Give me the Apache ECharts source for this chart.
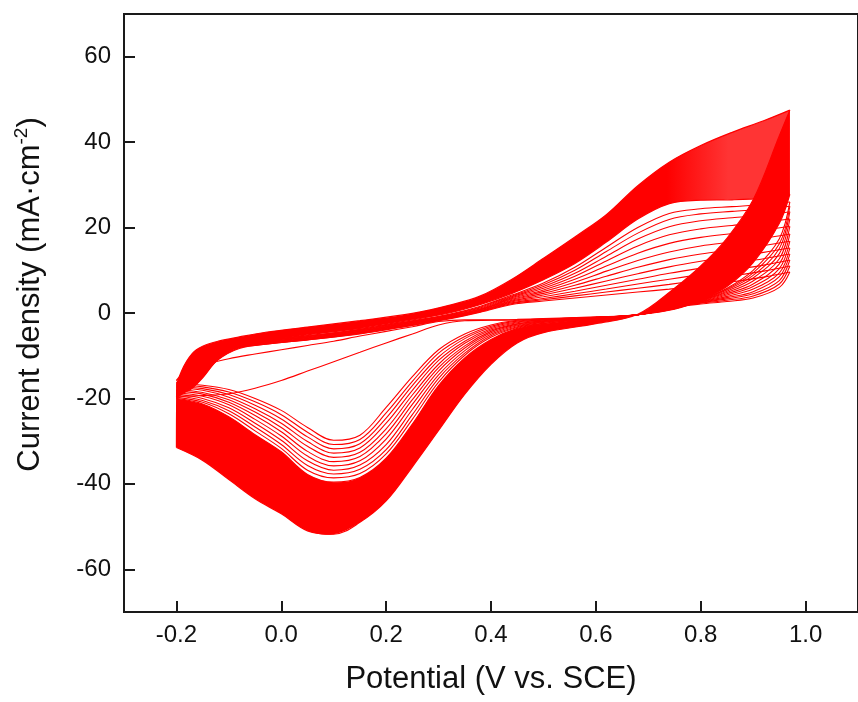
<!DOCTYPE html>
<html>
<head>
<meta charset="utf-8">
<script src="https://cdn.jsdelivr.net/npm/echarts@6/dist/echarts.min.js"></script>
<style>
  html, body { margin: 0; padding: 0; background: #ffffff; }
  #chart { width: 858px; height: 702px; }
</style>
</head>
<body>
<div id="chart"></div>
<script>
// Potential grid of the anodic sweep (after the -0.2 V start) and of the cathodic sweep (V vs. SCE)
const startPotential = -0.2;
const forwardPotential = [-0.199, -0.19, -0.17, -0.15, -0.12, -0.08, -0.03, 0.05, 0.15, 0.25, 0.32, 0.38,
                          0.44, 0.5, 0.56, 0.62, 0.68, 0.74, 0.8, 0.86, 0.92, 0.97];
const reversePotential = [0.95, 0.9, 0.85, 0.8, 0.75, 0.68, 0.6, 0.5, 0.45, 0.4, 0.35, 0.3,
                          0.25, 0.2, 0.15, 0.1, 0.05, 0.0, -0.05, -0.1, -0.15, -0.2];

// Axis ticks
const xTicks = [-0.2, 0.0, 0.2, 0.4, 0.6, 0.8, 1.0];
const yTicks = [-60, -40, -20, 0, 20, 40, 60];

// Early cycles (current density, mA·cm-2), one row per cycle, on the anodic grid
const earlyAnodic = [
  [-15.6, -14.2, -11.0, -9.7, -8.8, -8.0, -7.3, -6.3, -4.9, -2.9, -1.4, 0.2, 2.0, 2.8, 3.5, 4.2, 4.9, 5.6, 6.4, 7.3, 8.4, 9.6],
  [-19.3, -18.6, -17.0, -14.8, -10.9, -8.3, -7.3, -6.3, -4.8, -2.8, -1.3, 0.3, 2.2, 3.1, 4.0, 4.9, 5.8, 6.7, 7.7, 8.7, 9.8, 11.0],
  [-16.2, -15.0, -12.8, -11.0, -9.4, -8.0, -7.2, -6.2, -4.7, -2.7, -1.2, 0.4, 2.4, 3.4, 4.5, 5.6, 6.8, 7.9, 9.0, 10.1, 11.2, 12.4],
  [-16.5, -15.2, -12.9, -11.0, -9.3, -7.9, -7.1, -6.1, -4.6, -2.6, -1.1, 0.5, 2.6, 3.8, 5.1, 6.5, 7.9, 9.3, 10.5, 11.6, 12.7, 13.8],
  [-16.9, -15.5, -13.0, -11.0, -9.2, -7.8, -7.0, -6.0, -4.5, -2.5, -1.0, 0.6, 2.8, 4.2, 5.8, 7.5, 9.2, 10.8, 12.1, 13.2, 14.2, 15.2],
  [-17.2, -15.7, -13.0, -10.9, -9.1, -7.7, -6.9, -5.9, -4.4, -2.4, -0.9, 0.7, 3.0, 4.6, 6.5, 8.6, 10.7, 12.5, 13.8, 14.8, 15.8, 16.8],
  [-17.6, -15.9, -13.0, -10.8, -9.0, -7.6, -6.8, -5.8, -4.3, -2.3, -0.8, 0.8, 3.2, 5.0, 7.2, 9.8, 12.3, 14.3, 15.7, 16.6, 17.5, 18.5],
  [-18.0, -16.1, -13.0, -10.7, -8.9, -7.5, -6.7, -5.7, -4.2, -2.2, -0.7, 0.9, 3.4, 5.4, 7.9, 11.0, 14.0, 16.3, 17.7, 18.6, 19.4, 20.3],
  [-18.3, -16.2, -12.9, -10.6, -8.8, -7.4, -6.6, -5.6, -4.1, -2.1, -0.6, 1.0, 3.6, 5.8, 8.6, 12.2, 15.7, 18.3, 19.7, 20.5, 21.2, 22.0],
  [-18.6, -16.3, -12.8, -10.4, -8.7, -7.3, -6.5, -5.5, -4.0, -2.0, -0.5, 1.2, 3.8, 6.2, 9.3, 13.3, 17.3, 20.2, 21.6, 22.3, 22.9, 23.7],
  [-18.9, -16.4, -12.7, -10.3, -8.6, -7.2, -6.4, -5.4, -3.9, -1.9, -0.4, 1.4, 4.0, 6.6, 10.0, 14.4, 18.7, 21.9, 23.2, 23.8, 24.3, 25.0],
  [-19.2, -16.5, -12.6, -10.1, -8.5, -7.1, -6.3, -5.3, -3.8, -1.8, -0.3, 1.6, 4.2, 7.0, 10.7, 15.4, 20.0, 23.3, 24.4, 24.9, 25.4, 26.0]
];

// Early cycles on the cathodic grid (the last value is also where the next anodic sweep starts)
const earlyCathodic = [
  [6.0, 3.5, 2.7, 2.1, 1.3, -0.4, -0.9, -1.3, -1.5, -1.6, -1.6, -2.0, -3.2, -4.3, -5.4, -6.6, -7.6, -8.6, -9.6, -10.7, -12.3, -15.8],
  [6.8, 4.0, 3.0, 2.3, 1.4, -0.4, -1.0, -1.4, -1.6, -1.7, -1.8, -2.8, -4.9, -7.0, -9.2, -11.4, -13.6, -15.8, -17.6, -18.9, -19.3, -19.5],
  [7.6, 4.5, 3.3, 2.4, 1.4, -0.4, -1.0, -1.4, -1.7, -2.8, -4.9, -8.6, -14.9, -22.1, -28.6, -29.8, -26.8, -22.8, -20.0, -17.9, -16.9, -16.5],
  [8.5, 5.0, 3.6, 2.5, 1.4, -0.4, -1.0, -1.5, -1.9, -3.1, -5.5, -9.4, -16.0, -23.4, -29.6, -30.8, -27.9, -23.8, -20.8, -18.5, -17.3, -16.8],
  [9.4, 5.6, 3.9, 2.6, 1.4, -0.4, -1.0, -1.6, -2.1, -3.4, -6.0, -10.3, -17.0, -24.6, -30.6, -31.8, -29.0, -24.8, -21.6, -19.1, -17.7, -17.2],
  [10.4, 6.2, 4.2, 2.7, 1.3, -0.4, -1.1, -1.7, -2.3, -3.7, -6.6, -11.1, -18.1, -25.8, -31.6, -32.8, -30.1, -25.8, -22.4, -19.7, -18.1, -17.5],
  [11.5, 6.8, 4.5, 2.8, 1.3, -0.4, -1.1, -1.8, -2.5, -4.0, -7.1, -12.0, -19.2, -27.1, -32.6, -33.8, -31.2, -26.8, -23.2, -20.3, -18.6, -17.9],
  [12.7, 7.5, 4.8, 2.9, 1.2, -0.4, -1.1, -1.9, -2.6, -4.3, -7.7, -12.8, -20.3, -28.3, -33.6, -34.8, -32.4, -27.8, -24.0, -20.9, -19.0, -18.3],
  [13.9, 8.2, 5.1, 2.9, 1.2, -0.4, -1.1, -2.0, -2.8, -4.6, -8.2, -13.6, -21.4, -29.5, -34.6, -35.8, -33.5, -28.8, -24.9, -21.5, -19.5, -18.6],
  [15.1, 8.8, 5.4, 2.9, 1.1, -0.4, -1.2, -2.1, -3.0, -5.0, -8.8, -14.5, -22.6, -30.8, -35.6, -36.8, -34.6, -29.8, -25.8, -22.2, -20.0, -19.0],
  [16.2, 9.4, 5.6, 3.0, 1.1, -0.4, -1.2, -2.2, -3.2, -5.3, -9.4, -15.3, -23.8, -32.0, -36.6, -37.7, -35.7, -30.8, -26.7, -22.9, -20.5, -19.3],
  [17.4, 10.0, 5.8, 3.0, 1.0, -0.4, -1.2, -2.4, -3.4, -5.7, -9.9, -16.2, -24.9, -33.0, -37.6, -38.6, -36.8, -31.7, -27.6, -23.6, -20.9, -19.7]
];

// Later cycles pile up into a solid band; its inner and outer boundary cycles
const bandInnerAnodic = [-19.8, -19.0, -17.6, -15.2, -10.8, -8.1, -6.6, -5.1, -3.6, -1.6, 0.0, 2.0, 4.6, 7.8, 11.6, 16.6, 22.0, 25.6, 26.4, 26.5, 26.9, 27.8];
const bandInnerCathodic = [21.0, 11.8, 6.2, 3.0, 0.9, -0.4, -1.2, -2.5, -3.6, -6.2, -10.5, -17.0, -26.0, -34.0, -38.5, -39.6, -37.8, -32.5, -28.5, -24.3, -21.3, -20.0];
const lastAnodic = [-17.5, -13.5, -9.5, -7.8, -6.6, -5.6, -4.5, -3.3, -1.8, -0.1, 1.8, 4.0, 7.9, 12.8, 17.8, 23.0, 29.8, 35.3, 39.2, 42.3, 45.0, 47.5];
const lastCathodic = [41.5, 26.5, 17.5, 11.0, 5.8, -0.3, -2.5, -4.6, -7.0, -12.0, -19.0, -27.5, -36.0, -44.0, -49.0, -51.8, -51.0, -47.0, -43.5, -39.0, -34.5, -31.5];

const RED = '#ff0000';
const AXIS = '#1a1a1a';
const FONT = '"Liberation Sans", Arial, Helvetica, sans-serif';
const SMOOTH = 0.35;

// Split one cycle into its anodic and cathodic sweeps as [E, j] pairs
function sweeps(anodic, cathodic) {
  const jStart = cathodic[cathodic.length - 1];
  const forward = [[startPotential, jStart]].concat(forwardPotential.map((e, i) => [e, anodic[i]]));
  const vertex = forward[forward.length - 1];
  const reverse = [vertex].concat(reversePotential.map((e, i) => [e, cathodic[i]]));
  return { forward, reverse };
}

function sweepLine(points, width) {
  return {
    type: 'line',
    data: points,
    smooth: SMOOTH,
    symbol: 'none',
    silent: true,
    animation: false,
    lineStyle: { color: RED, width: width },
    z: 3
  };
}

// Bezier path through pixel points, using the same control-point rule as a smoothed line series
function smoothPath(pts, moveTo) {
  let d = (moveTo ? 'M' : 'L') + pts[0][0] + ' ' + pts[0][1];
  let cpx = pts[0][0], cpy = pts[0][1];
  for (let i = 1; i < pts.length; i++) {
    const x = pts[i][0], y = pts[i][1];
    const px = pts[i - 1][0], py = pts[i - 1][1];
    let c2x = x, c2y = y, vx = 0, vy = 0, ratio = 0.5;
    if (i < pts.length - 1) {
      const nx = pts[i + 1][0], ny = pts[i + 1][1];
      vx = nx - px; vy = ny - py;
      const l0 = Math.hypot(x - px, y - py), l1 = Math.hypot(nx - x, ny - y);
      ratio = (l0 + l1) > 0 ? l1 / (l0 + l1) : 0.5;
      c2x = x - vx * SMOOTH * (1 - ratio);
      c2y = y - vy * SMOOTH * (1 - ratio);
    }
    d += ' C' + cpx + ' ' + cpy + ' ' + c2x + ' ' + c2y + ' ' + x + ' ' + y;
    cpx = x + vx * SMOOTH * ratio;
    cpy = y + vy * SMOOTH * ratio;
  }
  return d;
}

// Filled region between two sweeps, drawn through the cartesian coordinate system
function bandFill(outer, inner, fill, z) {
  return {
    type: 'custom',
    coordinateSystem: 'cartesian2d',
    data: [[0.4, 0]],
    silent: true,
    animation: false,
    z: z,
    renderItem: function (params, api) {
      const a = outer.map(p => api.coord(p));
      const b = inner.slice().reverse().map(p => api.coord(p));
      return {
        type: 'path',
        shape: { pathData: smoothPath(a, true) + ' ' + smoothPath(b, false) + ' Z' },
        style: { fill: fill, stroke: null }
      };
    }
  };
}

const inner = sweeps(bandInnerAnodic, bandInnerCathodic);
const last = sweeps(lastAnodic, lastCathodic);

// The anodic band thins out towards the upper vertex, where its sweeps spread apart
const anodicFill = new echarts.graphic.LinearGradient(0, 0, 1, 0, [
  { offset: 0, color: RED },
  { offset: 0.8, color: RED },
  { offset: 0.9, color: 'rgb(255, 52, 52)' },
  { offset: 1, color: 'rgb(255, 52, 52)' }
]);

const series = [
  bandFill(last.forward, inner.forward, anodicFill, 1),
  bandFill(last.reverse, inner.reverse, RED, 2)
];
earlyAnodic.forEach((row, k) => {
  const s = sweeps(row, earlyCathodic[k]);
  series.push(sweepLine(s.forward, 1.1), sweepLine(s.reverse, 1.1));
});
series.push(sweepLine(inner.forward, 1.2), sweepLine(inner.reverse, 1.2));
series.push(sweepLine(last.forward, 1.2), sweepLine(last.reverse, 1.2));

const chart = echarts.init(document.getElementById('chart'), null, { renderer: 'canvas' });
chart.setOption({
  animation: false,
  backgroundColor: '#ffffff',
  grid: {
    left: 124, right: -8, top: 14, bottom: 90,
    show: true, borderColor: AXIS, borderWidth: 2, containLabel: false
  },
  xAxis: {
    type: 'value',
    min: -0.3, max: 1.1,
    name: 'Potential (V vs. SCE)',
    nameLocation: 'middle',
    nameGap: 52,
    nameTextStyle: { fontFamily: FONT, fontSize: 31, color: '#111' },
    axisLine: { show: true, onZero: false, lineStyle: { color: AXIS, width: 2 } },
    axisTick: { show: true, inside: true, length: 11, customValues: xTicks, lineStyle: { color: AXIS, width: 2 } },
    axisLabel: {
      customValues: xTicks, margin: 11,
      formatter: v => Number(v).toFixed(1),
      fontFamily: FONT, fontSize: 24, color: '#111'
    },
    splitLine: { show: false }
  },
  yAxis: {
    type: 'value',
    min: -70, max: 70,
    name: '{a|Current density (mA·cm}{s|-2}{a|)}',
    nameLocation: 'middle',
    nameGap: 76,
    nameRotate: 90,
    nameTextStyle: {
      fontFamily: FONT, color: '#111',
      padding: [0, 0, 0, 37],
      rich: {
        a: { fontFamily: FONT, fontSize: 31, color: '#111', lineHeight: 36 },
        s: { fontFamily: FONT, fontSize: 19, color: '#111', lineHeight: 20, verticalAlign: 'top' }
      }
    },
    axisLine: { show: true, onZero: false, lineStyle: { color: AXIS, width: 2 } },
    axisTick: { show: true, inside: true, length: 11, customValues: yTicks, lineStyle: { color: AXIS, width: 2 } },
    axisLabel: {
      customValues: yTicks, margin: 13,
      formatter: v => String(v),
      fontFamily: FONT, fontSize: 24, color: '#111'
    },
    splitLine: { show: false }
  },
  series: series
});
</script>
</body>
</html>
